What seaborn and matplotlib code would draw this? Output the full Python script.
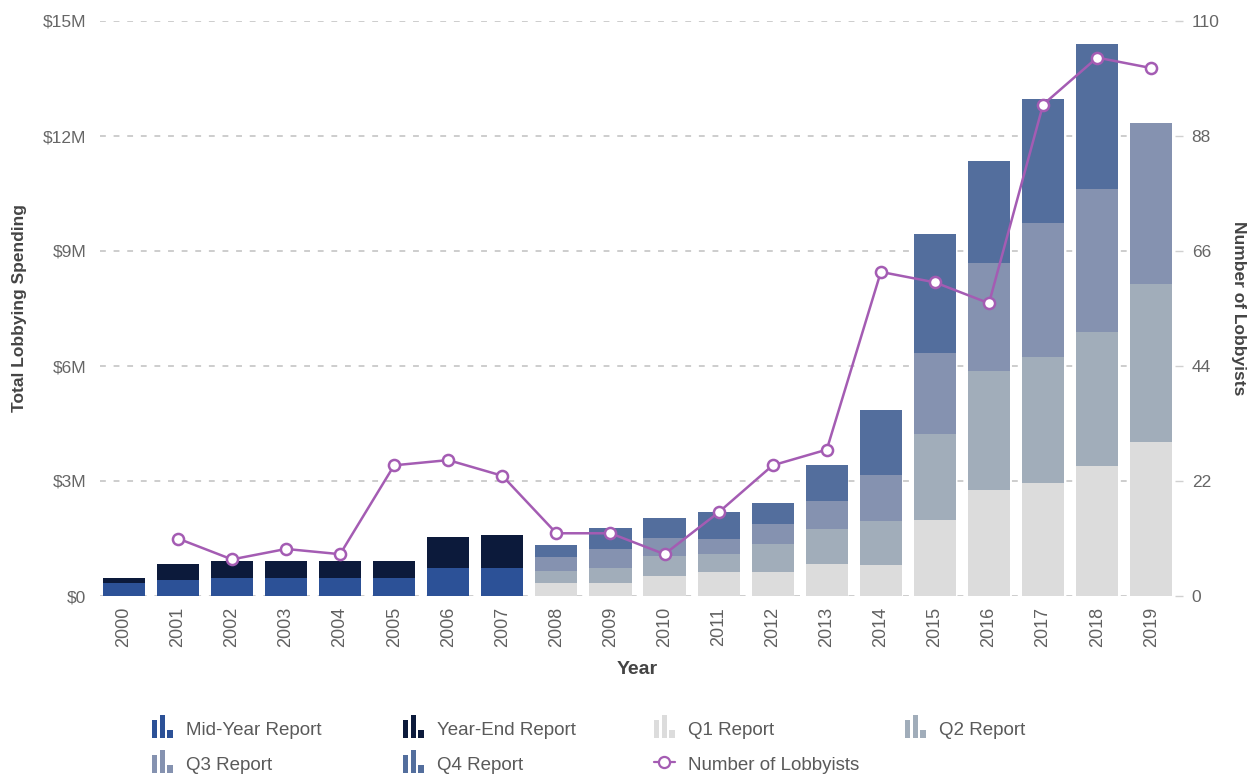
import numpy as np
import matplotlib
matplotlib.use("Agg")
import matplotlib.pyplot as plt
import seaborn as sns
from matplotlib.patches import Patch, Rectangle
from matplotlib.lines import Line2D
from matplotlib.legend_handler import HandlerBase

# ------------------------------
# data (spending in $M)
# ------------------------------
years = ["2000", "2001", "2002", "2003", "2004", "2005", "2006", "2007", "2008", "2009",
         "2010", "2011", "2012", "2013", "2014", "2015", "2016", "2017", "2018", "2019"]

mid_year = [0.35, 0.42, 0.48, 0.48, 0.48, 0.48, 0.74, 0.74, 0, 0,
            0, 0, 0, 0, 0, 0, 0, 0, 0, 0]
year_end = [0.12, 0.42, 0.43, 0.43, 0.43, 0.43, 0.80, 0.85, 0, 0,
            0, 0, 0, 0, 0, 0, 0, 0, 0, 0]
q1 = [0, 0, 0, 0, 0, 0, 0, 0, 0.35, 0.35,
      0.52, 0.63, 0.63, 0.84, 0.80, 1.99, 2.77, 2.95, 3.39, 4.01]
q2 = [0, 0, 0, 0, 0, 0, 0, 0, 0.30, 0.37,
      0.52, 0.47, 0.72, 0.90, 1.16, 2.24, 3.10, 3.29, 3.50, 4.12]
q3 = [0, 0, 0, 0, 0, 0, 0, 0, 0.38, 0.50,
      0.48, 0.40, 0.54, 0.74, 1.19, 2.10, 2.82, 3.48, 3.73, 4.22]
q4 = [0, 0, 0, 0, 0, 0, 0, 0, 0.30, 0.55,
      0.51, 0.69, 0.54, 0.94, 1.70, 3.12, 2.67, 3.25, 3.78, 0]

lobbyists = [np.nan, 11, 7, 9, 8, 25, 26, 23, 12, 12,
             8, 16, 25, 28, 62, 60, 56, 94, 103, 101]

layer_names = ["Mid-Year Report", "Year-End Report", "Q1 Report", "Q2 Report", "Q3 Report", "Q4 Report"]
layer_colors = ["#2c5197", "#0c1a3b", "#dcdcdc", "#a1adba", "#8592b0", "#536e9d"]
line_color = "#a45cb3"

left_ticks = [0, 3, 6, 9, 12, 15]
left_labels = ["$0", "$3M", "$6M", "$9M", "$12M", "$15M"]
right_ticks = [0, 22, 44, 66, 88, 110]

# ------------------------------
# style
# ------------------------------
sns.set_style("white")
plt.rcParams["font.family"] = ["Liberation Sans", "DejaVu Sans"]

fig = plt.figure(figsize=(12.58, 7.78), dpi=100)
ax = fig.add_axes([100 / 1258, 1 - 596 / 778, 1075 / 1258, 575 / 778])

# stacked bars: draw cumulative totals from the top layer down
cum = np.cumsum(np.array([mid_year, year_end, q1, q2, q3, q4]), axis=0)
for i in reversed(range(len(layer_names))):
    sns.barplot(x=years, y=cum[i], order=years, color=layer_colors[i], saturation=1,
                width=0.78, errorbar=None, ax=ax, zorder=2, linewidth=0)

ax.set_ylim(0, 15)
ax.set_yticks(left_ticks)
ax.set_yticklabels(left_labels)
ax.yaxis.grid(True, color="#cdcdcd", linestyle=(0, (3, 4)), linewidth=1.4, zorder=0)
ax.set_axisbelow(True)
ax.tick_params(axis="y", length=0, pad=10, labelsize=12.5, labelcolor="#666666")
ax.tick_params(axis="x", length=0, pad=8, labelsize=13, labelcolor="#606060", labelrotation=90)
ax.set_ylabel("Total Lobbying Spending", fontsize=12.5, fontweight="bold", color="#444444")
ax.yaxis.set_label_coords(-0.068, 0.5)
sns.despine(ax=ax, left=True, bottom=True)

# lobbyists line
ax2 = ax.twinx()
sns.pointplot(x=years, y=lobbyists, order=years, ax=ax2, color=line_color,
              markers="o", errorbar=None, linewidth=1.8, markersize=8,
              markerfacecolor="white", markeredgecolor=line_color, markeredgewidth=1.8)
ax2.set_ylim(0, 110)
ax2.set_yticks(right_ticks)
ax2.tick_params(axis="y", length=6, width=1, color="#d0d0d0", pad=6, labelsize=12.5, labelcolor="#666666")
ax2.set_ylabel("Number of Lobbyists", fontsize=12.5, fontweight="bold", color="#444444", rotation=270)
ax2.yaxis.set_label_coords(1.066, 0.5)
ax2.grid(False)
for s in ax2.spines.values():
    s.set_visible(False)
ax.set_xlim(-0.44, 19.44)
ax2.set_xlim(-0.44, 19.44)
ax.set_xlabel("Year", fontsize=14, fontweight="bold", color="#444444", labelpad=10)
ax2.set_xlabel("")


# ------------------------------
# legend with little bar-chart icons
# ------------------------------
class BarIcon(HandlerBase):
    def create_artists(self, legend, orig_handle, xdescent, ydescent, width, height, fontsize, trans):
        c = orig_handle.get_facecolor()
        bw = width / 3.8
        out = []
        for k, h in enumerate([0.85, 1.1, 0.4]):
            r = Rectangle((-xdescent + k * bw * 1.4, -ydescent - 1), bw, h * height * 1.25,
                          facecolor=c, edgecolor="none", transform=trans)
            out.append(r)
        return out


handles = {n: Patch(facecolor=c, label=n) for n, c in zip(layer_names, layer_colors)}
line_handle = Line2D([0], [0], color=line_color, marker="o", markerfacecolor="white",
                     markeredgecolor=line_color, markersize=8, markeredgewidth=1.6, linewidth=1.6)

columns = [
    ([handles["Mid-Year Report"], handles["Q3 Report"]], ["Mid-Year Report", "Q3 Report"]),
    ([handles["Year-End Report"], handles["Q4 Report"]], ["Year-End Report", "Q4 Report"]),
    ([handles["Q1 Report"], line_handle], ["Q1 Report", "Number of Lobbyists"]),
    ([handles["Q2 Report"]], ["Q2 Report"]),
]
col_x = [152, 403, 654, 905]
for (hs, ls), x in zip(columns, col_x):
    fig.legend(hs, ls, loc="upper left", bbox_to_anchor=(x / 1258, 1 - 720 / 778),
               frameon=False, fontsize=13.5, labelcolor="#5a5a5a",
               handlelength=1.1, handleheight=1.0, handletextpad=0.7,
               labelspacing=0.85, borderpad=0, borderaxespad=0,
               handler_map={Patch: BarIcon()})

fig.savefig("out.png", dpi=100)
